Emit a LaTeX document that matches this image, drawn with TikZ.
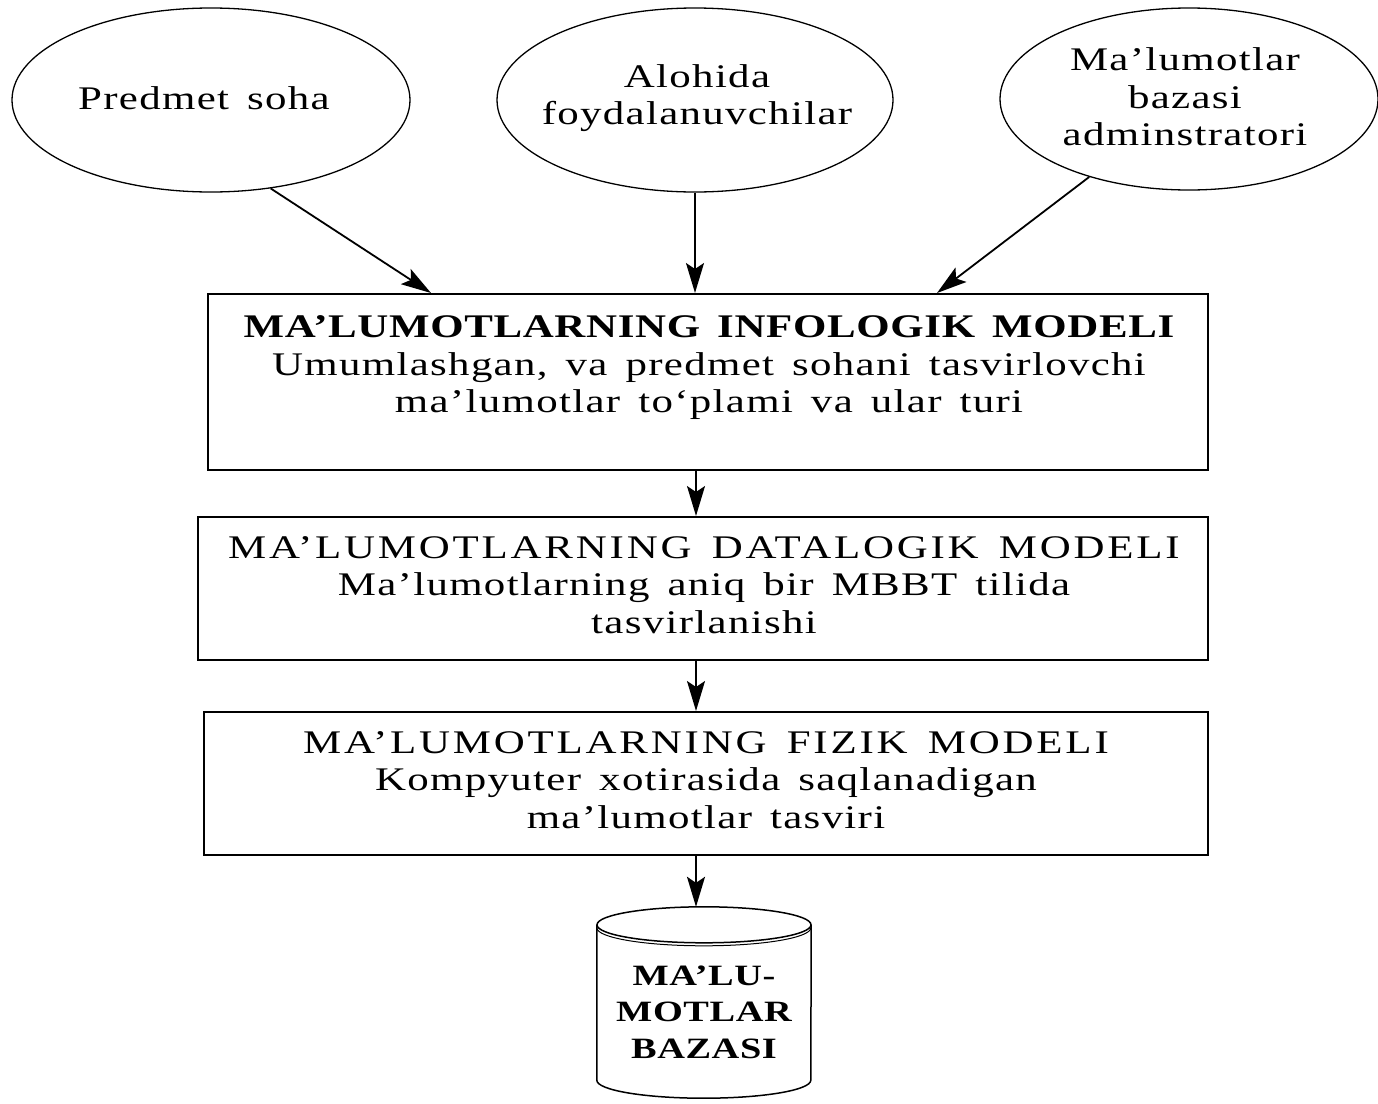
\documentclass[tikz,border=0pt]{standalone}
\usepackage{fontspec}
\setmainfont{Liberation Serif}[FakeStretch=1.3,LetterSpace=4,WordSpace=1.5]
\usetikzlibrary{arrows.meta,shapes.geometric}
\newcommand{\capsline}[1]{{\addfontfeature{LetterSpace=8.5}#1}}
\newcommand{\boldline}[1]{{\bfseries\addfontfeature{LetterSpace=2}#1}}
\begin{document}
\begin{tikzpicture}[x=1pt,y=-1pt,
  ell/.style={draw,ellipse,line width=1.3pt,inner sep=0pt},
  box/.style={draw,rectangle,line width=2pt,inner sep=0pt},
  txt/.style={align=center,inner sep=0pt,font=\fontsize{33}{37.5}\selectfont},
  dbtxt/.style={align=center,inner sep=0pt,font=\fontsize{29.5}{36.5}\selectfont\bfseries\addfontfeature{LetterSpace=2}},
  arr/.style={line width=1.8pt,-{Stealth[length=30pt,width=18pt,inset=6pt]}},
  cyl/.style={line width=1.5pt}]
\useasboundingbox (0,0) rectangle (1378,1103);
% ellipses
\node[ell,minimum width=398pt,minimum height=184pt] (e1) at (211,100) {};
\node[ell,minimum width=396pt,minimum height=184pt] (e2) at (695,100) {};
\node[ell,minimum width=378pt,minimum height=182pt] (e3) at (1189,99) {};
\node[txt] (t1) at (204,98) {Predmet soha};
\node[txt] (t2) at (697,98) {Alohida\\foydalanuvchilar};
\node[txt] (t3) at (1185,97) {Ma’lumotlar\\bazasi\\adminstratori};
% boxes
\node[box,minimum width=1000pt,minimum height=176pt] (b1) at (708,382) {};
\node[box,minimum width=1010pt,minimum height=143pt] (b2) at (703,588.5) {};
\node[box,minimum width=1004pt,minimum height=143pt] (b3) at (706,783.5) {};
\node[txt] (bt1) at (709,368) {\boldline{MA’LUMOTLARNING INFOLOGIK MODELI}\\Umumlashgan, va predmet sohani tasvirlovchi\\ma’lumotlar to‘plami va ular turi};
\node[txt] (bt2) at (704,585) {\capsline{MA’LUMOTLARNING DATALOGIK MODELI}\\Ma’lumotlarning aniq bir MBBT tilida\\tasvirlanishi};
\node[txt] (bt3) at (706,780) {\capsline{MA’LUMOTLARNING FIZIK MODELI}\\Kompyuter xotirasida saqlanadigan\\ma’lumotlar tasviri};
% cylinder
\node[minimum width=214pt,minimum height=155pt,inner sep=0pt] (db) at (704,1002.5) {};
\draw[cyl] (db.north west) -- (db.south west) arc (180:360:107pt and 18pt) -- (db.north east);
\draw[cyl] (db.north) ellipse [x radius=107pt,y radius=18pt];
\draw[line width=1pt] ([yshift=-3pt]db.north west) arc (180:360:107pt and 18pt);
\coordinate (dbtop) at ([yshift=18pt]db.north);
\node[dbtxt] (dbt) at (704,1012) {MA’LU-\\MOTLAR\\BAZASI};
% arrows
\draw[arr] (e1.-56) -- ([xshift=224pt]b1.north west);
\draw[arr] (e2.south) -- (e2.south |- b1.north);
\draw[arr] (e3.218.7) -- ([xshift=730pt]b1.north west);
\coordinate (p1) at ([xshift=489pt]b1.south west);
\draw[arr] (p1) -- (p1 |- b2.north);
\coordinate (p2) at ([xshift=499pt]b2.south west);
\draw[arr] (p2) -- (p2 |- b3.north);
\coordinate (p3) at ([xshift=493pt]b3.south west);
\draw[arr] (p3) -- (p3 |- dbtop);
\end{tikzpicture}
\end{document}
